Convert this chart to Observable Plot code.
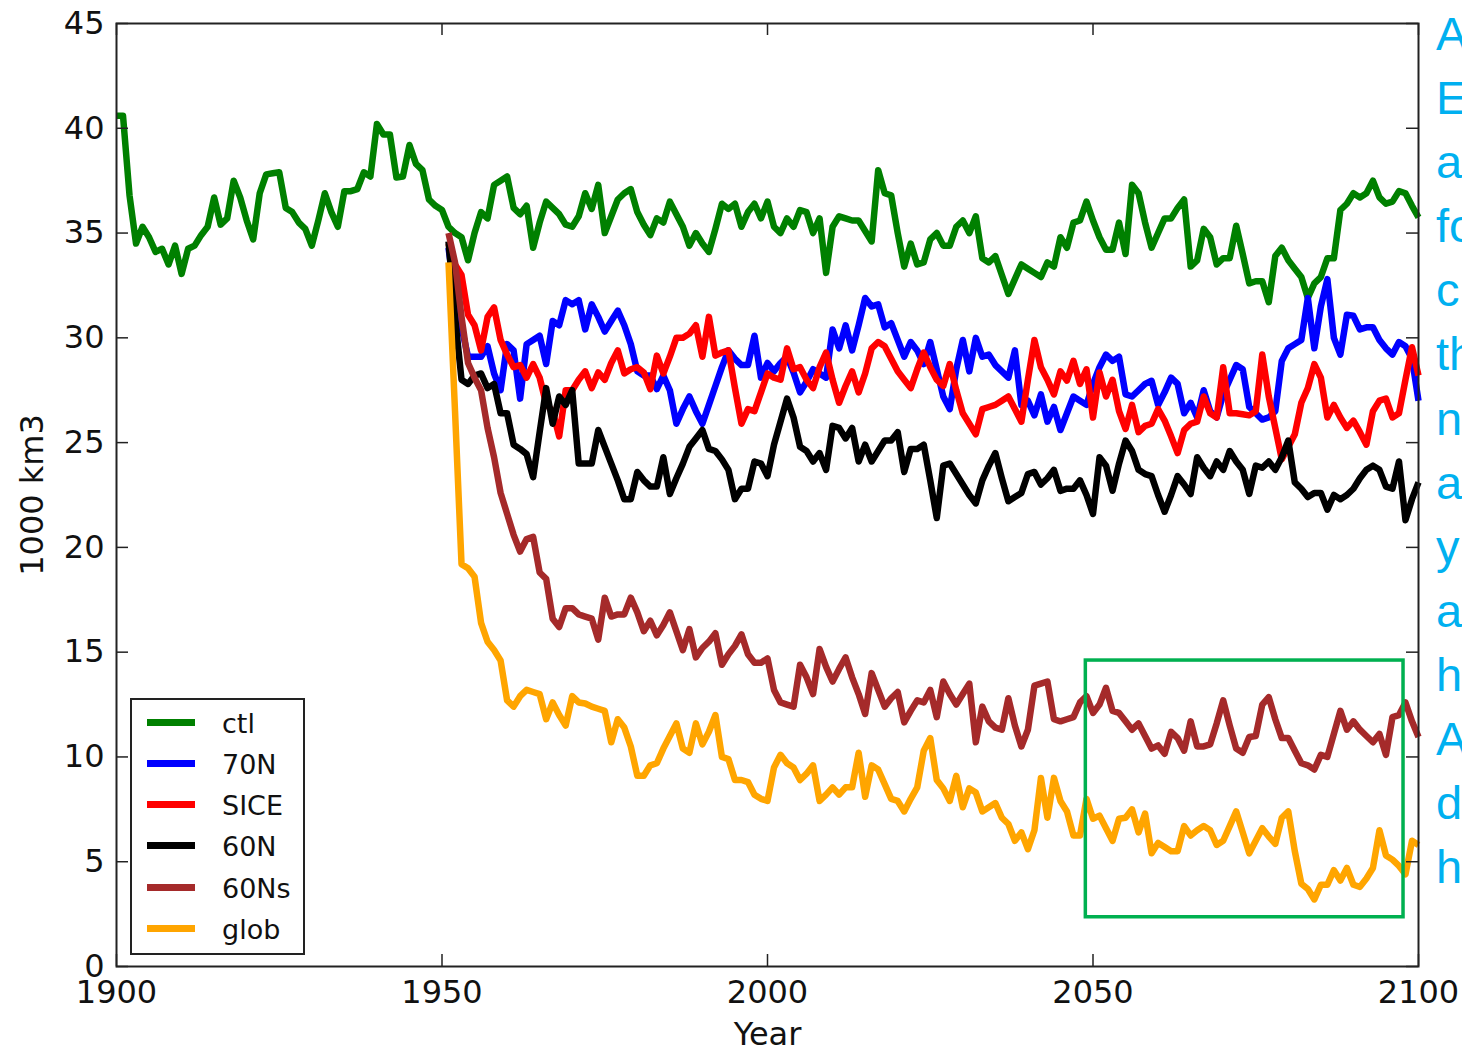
<!DOCTYPE html>
<html>
<head>
<meta charset="utf-8">
<script src="https://cdn.jsdelivr.net/npm/d3@7"></script>
<script src="https://cdn.jsdelivr.net/npm/@observablehq/plot@0.6"></script>
<style>
html, body { margin: 0; padding: 0; overflow: hidden; background: #fff; }
#wrap { position: relative; width: 1462px; height: 1049px; overflow: hidden; background: #fff; }
#legend { position: absolute; left: 130px; top: 698px; width: 171px; height: 253px; border: 2px solid #222; background: #fff; font-family: "DejaVu Sans", sans-serif; }
#legend .sw { position: absolute; left: 15px; width: 48px; height: 7px; }
#legend .lb { position: absolute; left: 90px; font-size: 27px; line-height: 27px; color: #111; white-space: nowrap; }
#note { position: absolute; left: 1436px; top: 2px; font-family: "Liberation Sans", Arial, sans-serif; font-size: 47px; line-height: 64.1px; color: #00B0F0; white-space: pre; }
</style>
</head>
<body>
<div id="wrap"></div>
<script>
// ---- data (1000 km3) ----
const ctlStart = 1900;
const ctl = [
  40.6, 40.6, 36.8, 34.5, 35.3, 34.8, 34.1, 34.25, 33.5, 34.4,
  33.05, 34.25, 34.4, 34.9, 35.3, 36.7, 35.4, 35.7, 37.5, 36.7,
  35.6, 34.7, 36.9, 37.8, 37.85, 37.9, 36.2, 36.0, 35.5, 35.2,
  34.4, 35.6, 36.9, 36.0, 35.3, 37.0, 37.0, 37.1, 37.9, 37.7,
  40.2, 39.7, 39.7, 37.65, 37.7, 39.2, 38.3, 38.0, 36.6, 36.3,
  36.1, 35.3, 35.0, 34.8, 33.7, 35.0, 36.0, 35.7, 37.3, 37.5,
  37.7, 36.2, 35.9, 36.3, 34.3, 35.5, 36.5, 36.2, 35.9, 35.4,
  35.3, 35.8, 36.9, 36.15, 37.3, 35.0, 35.8, 36.6, 36.9, 37.1,
  36.0, 35.4, 34.9, 35.7, 35.5, 36.5, 35.9, 35.3, 34.4, 35.0,
  34.5, 34.1, 35.2, 36.4, 36.15, 36.4, 35.3, 36.0, 36.4, 35.7,
  36.5, 35.3, 35.0, 35.7, 35.3, 36.1, 36.0, 35.0, 35.7, 33.1,
  35.3, 35.8, 35.7, 35.6, 35.6, 35.1, 34.6, 38.0, 36.9, 36.8,
  35.0, 33.4, 34.5, 33.5, 33.6, 34.7, 35.0, 34.4, 34.4, 35.3,
  35.6, 35.0, 35.8, 33.8, 33.6, 33.9, 33.0, 32.1, 32.8, 33.5,
  33.3, 33.1, 32.9, 33.6, 33.4, 34.8, 34.3, 35.5, 35.6, 36.5,
  35.6, 34.8, 34.2, 34.2, 35.5, 34.0, 37.3, 36.9, 35.5, 34.3,
  35.0, 35.7, 35.7, 36.2, 36.6, 33.4, 33.7, 35.2, 34.8, 33.5,
  33.8, 33.8, 35.35, 34.0, 32.6, 32.7, 32.7, 31.7, 33.9, 34.3,
  33.7, 33.3, 32.9, 31.9, 32.6, 32.9, 33.8, 33.8, 36.1, 36.4,
  36.9, 36.7, 36.9, 37.5, 36.7, 36.4, 36.5, 37.0, 36.9, 36.3,
  35.75
];
const expStart = 1951;
const n70 = [
  34.3, 32.0, 30.5, 29.1, 29.1, 29.1, 29.6, 28.3, 27.5,
  29.7, 29.4, 27.1, 29.7, 29.9, 30.1, 28.75, 30.8, 30.6, 31.8,
  31.6, 31.8, 30.4, 31.6, 31.0, 30.3, 30.8, 31.3, 30.6, 29.7,
  28.4, 28.2, 28.2, 27.55, 28.2, 27.5, 25.9, 26.6, 27.2, 26.5,
  25.9, 26.8, 27.7, 28.6, 29.4, 29.0, 28.7, 28.7, 30.1, 28.1,
  28.8, 28.4, 28.8, 29.1, 28.35, 27.4, 27.9, 28.5, 28.3, 28.1,
  30.4, 29.5, 30.6, 29.4, 30.6, 31.9, 31.5, 31.6, 30.5, 30.7,
  29.9, 29.1, 29.8, 29.4, 28.75, 29.8, 28.5, 27.2, 26.6, 28.5,
  29.9, 28.4, 30.0, 29.1, 29.2, 28.7, 28.4, 28.1, 29.4, 26.8,
  27.0, 26.3, 27.3, 26.0, 26.7, 25.6, 26.4, 27.2, 27.0, 26.8,
  27.8, 28.6, 29.2, 28.9, 29.1, 27.3, 27.2, 27.5, 27.8, 27.95,
  26.8, 27.4, 28.1, 27.8, 26.4, 26.9, 26.2, 27.5, 26.5, 26.2,
  27.3, 28.0, 28.7, 28.5, 26.7, 26.4, 26.1, 26.2, 26.5, 28.9,
  29.5, 29.7, 29.9, 31.9, 29.5, 31.5, 32.8, 30.0, 29.2, 31.1,
  31.05, 30.4, 30.5, 30.5, 29.9, 29.5, 29.2, 29.8, 29.6, 29.0,
  27.0
];
const sice = [
  34.5, 33.5, 33.0, 31.1, 30.6, 29.4, 31.0, 31.45, 29.9,
  29.2, 28.6, 28.7, 28.1, 28.75, 28.1, 26.85, 26.5, 25.3, 27.5,
  27.5, 28.0, 28.4, 27.6, 28.35, 28.0, 28.8, 29.4, 28.3, 28.5,
  28.6, 28.35, 27.55, 29.15, 28.3, 29.1, 30.0, 30.0, 30.2, 30.6,
  29.1, 31.0, 29.15, 29.3, 29.4, 27.6, 25.9, 26.6, 26.5, 27.4,
  28.3, 28.1, 28.0, 29.5, 28.5, 28.6, 28.0, 27.6, 28.6, 29.3,
  28.0, 26.9, 27.7, 28.4, 27.4, 28.3, 29.5, 29.8, 29.6, 29.0,
  28.4, 28.0, 27.6, 28.5, 29.3, 28.6, 28.0, 27.7, 28.75, 27.5,
  26.4, 25.9, 25.4, 26.6, 26.7, 26.8, 27.0, 27.2, 26.6, 26.0,
  28.0, 29.9, 28.6, 28.0, 27.3, 28.4, 27.96, 28.9, 27.8, 28.5,
  26.2, 28.35, 27.2, 28.0, 26.5, 25.65, 26.8, 25.5, 25.8, 25.9,
  26.6, 26.05, 25.3, 24.5, 25.6, 25.9, 26.0, 27.2, 26.4, 26.2,
  28.6, 26.4, 26.4, 26.35, 26.3, 26.5, 29.2, 27.2, 25.7, 24.2,
  24.8, 25.4, 26.9, 27.6, 28.75, 28.1, 26.2, 26.8, 26.2, 25.7,
  26.05, 25.5, 24.9, 26.5, 27.0, 27.1, 26.2, 26.4, 28.0, 29.55,
  28.2
];
const n60 = [
  34.6, 31.0, 28.0, 27.8, 28.2, 28.3, 27.6, 27.8, 26.4,
  26.4, 24.9, 24.7, 24.45, 23.35, 25.5, 27.6, 25.9, 27.2, 26.8,
  27.5, 24.0, 24.0, 24.0, 25.6, 24.8, 24.0, 23.2, 22.3, 22.3,
  23.6, 23.2, 22.9, 22.9, 24.3, 22.55, 23.3, 24.0, 24.8, 25.2,
  25.6, 24.7, 24.6, 24.2, 23.7, 22.3, 22.8, 22.8, 24.1, 24.0,
  23.4, 24.9, 26.0, 27.1, 26.2, 24.8, 24.6, 24.1, 24.5, 23.7,
  25.8, 25.7, 25.2, 25.7, 24.1, 24.9, 24.1, 24.6, 25.1, 25.1,
  25.5, 23.6, 24.7, 24.7, 24.9, 23.2, 21.4, 23.9, 24.0, 23.5,
  23.0, 22.5, 22.1, 23.2, 23.9, 24.5, 23.3, 22.2, 22.4, 22.6,
  23.5, 23.6, 23.0, 23.3, 23.7, 22.7, 22.8, 22.8, 23.2, 22.5,
  21.6, 24.3, 23.9, 22.7, 24.0, 25.1, 24.6, 23.7, 23.5, 23.4,
  22.5, 21.7, 22.5, 23.4, 23.0, 22.55, 24.3, 23.8, 23.4, 24.1,
  23.7, 24.6, 24.1, 23.7, 22.55, 23.9, 23.8, 24.1, 23.7, 24.3,
  25.1, 23.1, 22.8, 22.4, 22.6, 22.6, 21.8, 22.5, 22.3, 22.5,
  22.8, 23.3, 23.7, 23.9, 23.7, 22.9, 22.8, 24.1, 21.3, 22.3,
  23.1
];
const n60s = [
  35.0, 33.6, 31.0, 28.8, 28.1, 27.5, 25.7, 24.3, 22.6,
  21.6, 20.6, 19.8, 20.4, 20.5, 18.8, 18.5, 16.6, 16.2, 17.1,
  17.1, 16.8, 16.7, 16.6, 15.6, 17.6, 16.7, 16.8, 16.8, 17.6,
  16.9, 16.0, 16.5, 15.8, 16.3, 16.9, 16.0, 15.1, 16.1, 14.75,
  15.2, 15.5, 15.9, 14.4, 14.9, 15.3, 15.85, 14.9, 14.5, 14.5,
  14.7, 13.2, 12.6, 12.5, 12.4, 14.4, 13.8, 13.0, 15.15, 14.3,
  13.6, 14.2, 14.75, 13.8, 13.0, 12.05, 14.0, 13.2, 12.4, 12.8,
  13.1, 11.65, 12.2, 12.7, 12.6, 13.2, 11.9, 13.6, 13.0, 12.5,
  13.0, 13.5, 10.7, 12.4, 11.7, 11.4, 11.3, 12.8, 11.5, 10.5,
  11.3, 13.4, 13.5, 13.6, 11.8, 11.7, 11.8, 11.9, 12.6, 12.9,
  12.1, 12.5, 13.3, 12.2, 12.1, 11.7, 11.3, 11.6, 11.0, 10.4,
  10.55, 10.15, 11.2, 10.9, 10.3, 11.7, 10.5, 10.5, 10.6, 11.6,
  12.7, 11.5, 10.4, 10.2, 10.95, 11.0, 12.5, 12.85, 11.8, 10.9,
  10.9, 10.3, 9.7, 9.6, 9.4, 10.1, 10.0, 11.1, 12.2, 11.3,
  11.7, 11.3, 11.0, 10.7, 11.1, 10.1, 11.9, 12.0, 12.6, 11.7,
  10.95
];
const glob = [
  33.6, 26.5, 19.2, 19.0, 18.6, 16.4, 15.5, 15.1, 14.6,
  12.7, 12.4, 12.9, 13.2, 13.1, 13.0, 11.8, 12.6, 12.0, 11.5,
  12.9, 12.6, 12.55, 12.4, 12.3, 12.2, 10.7, 11.8, 11.4, 10.5,
  9.1, 9.1, 9.6, 9.7, 10.4, 11.0, 11.6, 10.4, 10.2, 11.6,
  10.6, 11.2, 12.0, 10.0, 9.9, 8.9, 8.9, 8.8, 8.2, 8.0,
  7.9, 9.5, 10.1, 9.7, 9.5, 8.9, 9.2, 9.6, 7.9, 8.2,
  8.55, 8.2, 8.55, 8.55, 10.2, 8.1, 9.6, 9.4, 8.7, 8.0,
  7.9, 7.4, 8.0, 8.55, 10.3, 10.9, 8.9, 8.5, 7.9, 9.1,
  7.6, 8.5, 8.3, 7.4, 7.6, 7.8, 7.1, 6.8, 6.0, 6.4,
  5.6, 6.5, 9.0, 7.1, 9.0, 7.9, 7.4, 6.25, 6.25, 8.0,
  7.05, 7.2, 6.6, 6.0, 7.05, 7.1, 7.5, 6.4, 7.3, 5.4,
  5.9, 5.7, 5.5, 5.5, 6.7, 6.25, 6.5, 6.7, 6.5, 5.8,
  6.0, 6.7, 7.4, 6.4, 5.4, 6.0, 6.6, 6.2, 5.85, 7.1,
  7.4, 5.5, 3.95, 3.7, 3.2, 3.9, 3.9, 4.6, 4.1, 4.7,
  3.9, 3.8, 4.2, 4.7, 6.5, 5.3, 5.1, 4.8, 4.4, 6.0,
  5.8
];
const seriesNames = ["ctl", "70N", "SICE", "60N", "60Ns", "glob"];
const seriesColors = ["#008000", "#0000ff", "#ff0000", "#000000", "#a52a2a", "#ffa500"];
const seriesValues = [ctl, n70, sice, n60, n60s, glob];
const seriesStarts = [ctlStart, expStart, expStart, expStart, expStart, expStart];
const xTicks = [1900, 1950, 2000, 2050, 2100];
const yTicks = [0, 5, 10, 15, 20, 25, 30, 35, 40, 45];
const highlightBox = [{x1: 2048.9, x2: 2097.7, y1: 2.35, y2: 14.6}];
const noteLines = ["A", "E", "a", "fo", "c", "th", "n", "a", "y", "a", "h", "A", "d", "h"];

// ---- layout ----
const W = 1462, H = 1049, mL = 116, mR = 44, mT = 23, mB = 83;
const plotH = H - mT - mB, plotW = W - mL - mR, TICK = 12;
const FS = 32;

const lineMarks = seriesValues.map((vals, k) =>
  Plot.line(vals.map((v, i) => ({year: seriesStarts[k] + i, value: v})), {
    x: "year", y: "value", stroke: seriesColors[k], strokeWidth: 6.5,
    strokeLinejoin: "round", strokeLinecap: "butt"
  })
);

const chart = Plot.plot({
  width: W, height: H,
  marginLeft: mL, marginRight: mR, marginTop: mT, marginBottom: mB,
  style: {fontFamily: "DejaVu Sans, sans-serif", fontSize: FS + "px", color: "#111", background: "#fff", overflow: "visible"},
  x: {domain: [1900, 2100]},
  y: {domain: [0, 45]},
  marks: [
    ...lineMarks,
    Plot.rect(highlightBox, {x1: "x1", x2: "x2", y1: "y1", y2: "y2", fill: "none", stroke: "#00b050", strokeWidth: 3.5}),
    Plot.ruleX(xTicks, {x: d => d, insetTop: plotH - TICK, stroke: "#222", strokeWidth: 1.5}),
    Plot.ruleX(xTicks, {x: d => d, insetBottom: plotH - TICK, stroke: "#222", strokeWidth: 1.5}),
    Plot.ruleY(yTicks, {y: d => d, insetRight: plotW - TICK, stroke: "#222", strokeWidth: 1.5}),
    Plot.ruleY(yTicks, {y: d => d, insetLeft: plotW - TICK, stroke: "#222", strokeWidth: 1.5}),
    Plot.frame({stroke: "#222", strokeWidth: 2}),
    Plot.axisX(xTicks, {tickSize: 0, tickPadding: 14, fontSize: FS, label: null, tickFormat: d => String(d)}),
    Plot.axisY(yTicks, {tickSize: 0, tickPadding: 12, fontSize: FS, label: null, tickFormat: d => String(d)}),
    Plot.text(["Year"], {frameAnchor: "bottom", textAnchor: "middle", lineAnchor: "bottom", dy: 78, fontSize: FS}),
    Plot.text(["1000 km3"], {frameAnchor: "left", textAnchor: "middle", lineAnchor: "middle", rotate: -90, dx: -84, fontSize: FS})
  ]
});

const wrap = document.getElementById("wrap");
wrap.appendChild(chart);

// legend
const legend = document.createElement("div");
legend.id = "legend";
seriesNames.forEach((name, i) => {
  const cy = 22 + 41.3 * i;
  const sw = document.createElement("div");
  sw.className = "sw";
  sw.style.top = (cy - 3.5) + "px";
  sw.style.background = seriesColors[i];
  legend.appendChild(sw);
  const lb = document.createElement("div");
  lb.className = "lb";
  lb.style.top = (cy - 12.5) + "px";
  lb.textContent = name;
  legend.appendChild(lb);
});
wrap.appendChild(legend);

// cut-off side text
const note = document.createElement("div");
note.id = "note";
note.textContent = noteLines.join("\n");
wrap.appendChild(note);
</script>
</body>
</html>
